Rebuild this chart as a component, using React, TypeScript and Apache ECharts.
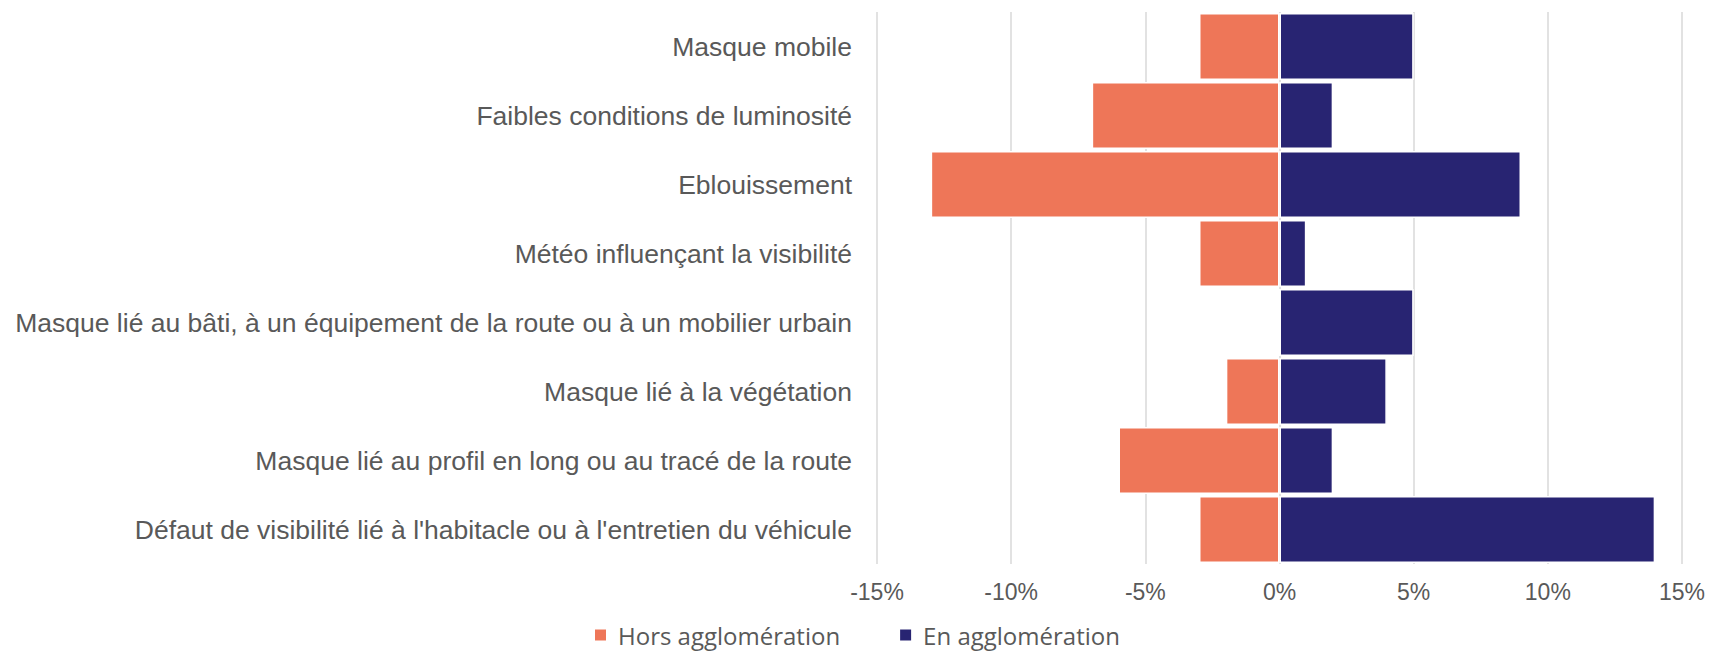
import React, { useEffect, useRef } from "react";
import * as echarts from "echarts";

const categories = [
  "Masque mobile",
  "Faibles conditions de luminosité",
  "Eblouissement",
  "Météo influençant la visibilité",
  "Masque lié au bâti, à un équipement de la route ou à un mobilier urbain",
  "Masque lié à la végétation",
  "Masque lié au profil en long ou au tracé de la route",
  "Défaut de visibilité lié à l'habitacle ou à l'entretien du véhicule",
];
const horsAgglo = [-3, -7, -13, -3, 0, -2, -6, -3];
const enAgglo = [5, 2, 9, 1, 5, 4, 2, 14];
const seriesNames = ["Hors agglomération", "En agglomération"];
const xTicks = { min: -15, max: 15, interval: 5 };

export default function App() {
  const ref = useRef<HTMLDivElement>(null);
  useEffect(() => {
    document.body.style.margin = "0";
    const chart = echarts.init(ref.current!, null, { renderer: "svg" });
    chart.setOption({
      animation: false,
      backgroundColor: "#ffffff",
      grid: { left: 877, right: 27, top: 12, bottom: 88, containLabel: false },
      legend: {
        left: 588,
        top: 618,
        itemWidth: 13,
        itemHeight: 13,
        itemGap: 58,
        icon: "rect",
        textStyle: {
          fontFamily: "Open Sans",
          fontSize: 24,
          lineHeight: 24,
          color: "#595959",
          padding: [0, 0, 0, 6],
        },
        data: seriesNames,
      },
      xAxis: {
        type: "value",
        min: xTicks.min,
        max: xTicks.max,
        interval: xTicks.interval,
        axisLine: { show: false },
        axisTick: { show: false },
        splitLine: { show: true, lineStyle: { color: "#D9D9D9", width: 1.5 } },
        axisLabel: {
          formatter: (v: number) => `${v}%`,
          fontFamily: "Liberation Sans, Arial",
          fontSize: 23,
          color: "#595959",
          margin: 16,
        },
      },
      yAxis: {
        type: "category",
        inverse: true,
        data: categories,
        axisLine: { show: false },
        axisTick: { show: false },
        axisLabel: {
          fontFamily: "Liberation Sans, Arial",
          fontSize: 26.5,
          color: "#595959",
          margin: 25,
        },
      },
      series: [
        {
          name: seriesNames[0],
          type: "bar",
          stack: "total",
          data: horsAgglo,
          barCategoryGap: "3%",
          itemStyle: { color: "#EE7658", borderColor: "#ffffff", borderWidth: 1.5 },
        },
        {
          name: seriesNames[1],
          type: "bar",
          stack: "total",
          data: enAgglo,
          barCategoryGap: "3%",
          itemStyle: { color: "#282472", borderColor: "#ffffff", borderWidth: 1.5 },
        },
      ],
    });
    return () => chart.dispose();
  }, []);
  return <div ref={ref} style={{ width: 1709, height: 652 }} />;
}
